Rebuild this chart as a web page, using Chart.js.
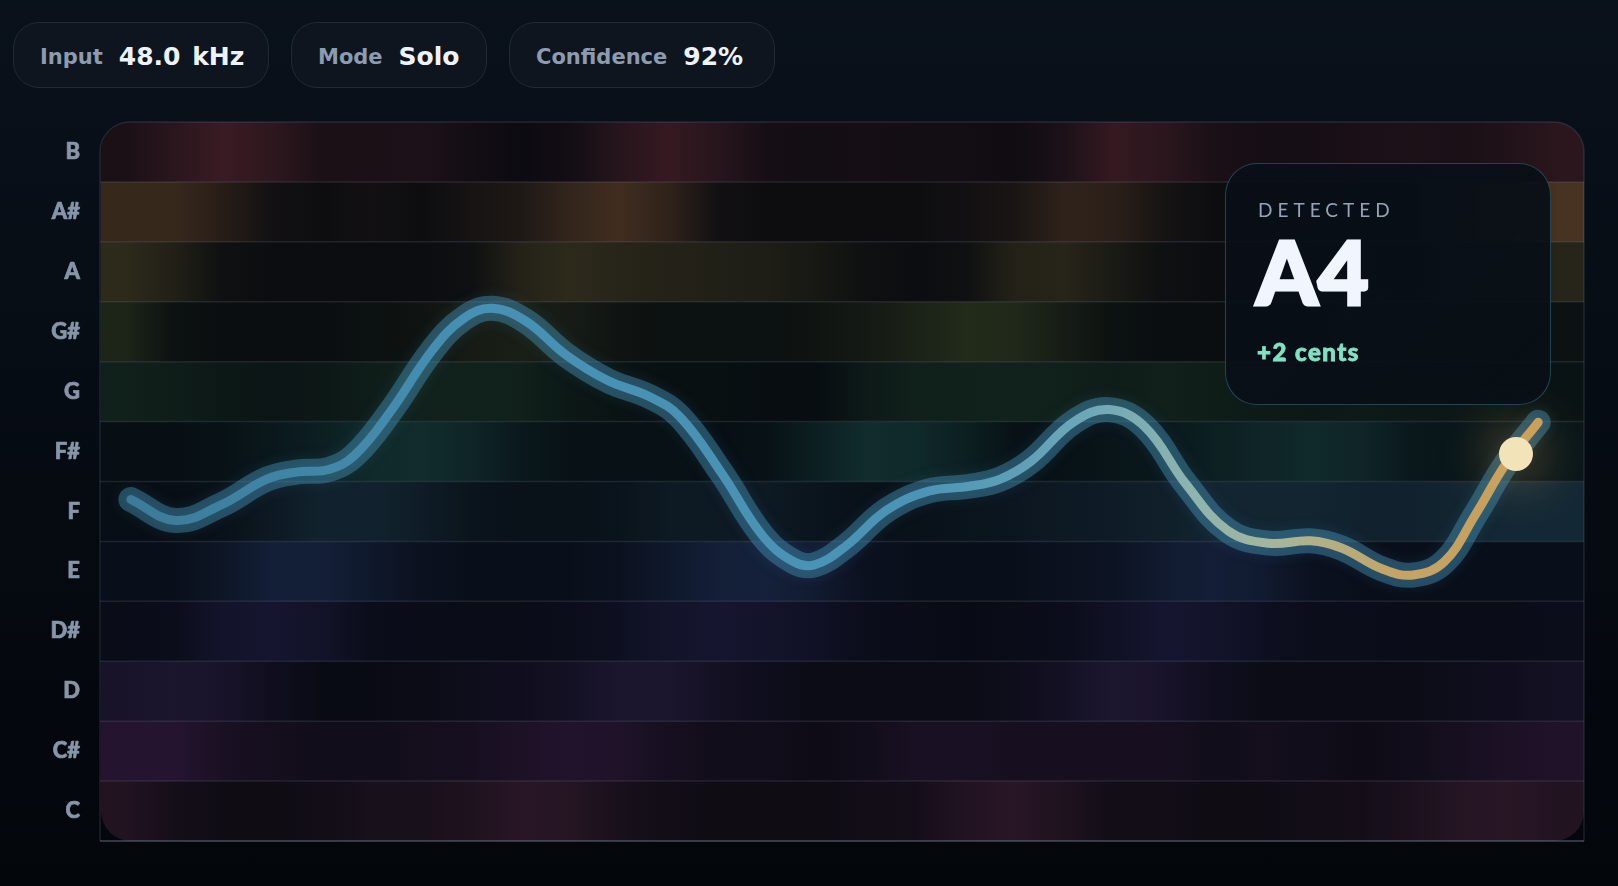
<!DOCTYPE html>
<html>
<head>
<meta charset="utf-8">
<script src="https://cdn.jsdelivr.net/npm/chart.js@4.4.1/dist/chart.umd.min.js"></script>
<style>
  html, body { margin: 0; padding: 0; width: 1618px; height: 886px; overflow: hidden;
    background: linear-gradient(180deg, #09111b 0%, #060b12 55%, #03060b 100%);
    font-family: Lato, 'Noto Sans', sans-serif; }
  #wrap { position: relative; width: 1618px; height: 886px; }
  #pitchChart { position: absolute; left: 0; top: 0; }
  .pill { position: absolute; top: 22px; height: 66px; box-sizing: border-box;
    border: 1.5px solid #212a36; border-radius: 26px; background: #0e151e;
    display: flex; align-items: center; padding: 3px 0 0 26px; gap: 16px; }
  .pill .k { color: #8d9bb0; font-family: 'DejaVu Sans', sans-serif; font-weight: 700; font-size: 21px; }
  .pill .v { color: #eef3fb; font-family: 'DejaVu Sans', sans-serif; font-weight: 700; font-size: 25px; word-spacing: 3px; }
  .card { position: absolute; left: 1225px; top: 163px; width: 326px; height: 242px;
    box-sizing: border-box; border: 1.5px solid rgba(64, 122, 152, 0.5); border-radius: 32px;
    background: linear-gradient(135deg, rgba(10, 15, 23, 0.95) 0%, rgba(8, 16, 22, 0.92) 100%); }
  .card div { position: absolute; white-space: nowrap; line-height: 1; }
  .card .lbl { left: 32px; top: 36px; font-size: 19px; font-weight: 400; letter-spacing: 5px; color: #93a4b8; }
  .card .note { left: 30px; top: 63px; font-size: 88px; font-weight: 900; color: #f1f5fd;
    letter-spacing: 0px; -webkit-text-stroke: 3px #f1f5fd; }
  .card .cents { left: 31px; top: 176px; font-size: 24px; font-weight: 900; color: #80e2c2;
    letter-spacing: 1.5px; -webkit-text-stroke: 0.8px #80e2c2; }
</style>
</head>
<body>
<div id="wrap">
  <canvas id="pitchChart" width="1618" height="886"></canvas>
  <div id="pills"></div>
  <div class="card">
    <div class="lbl" id="cardLabel"></div>
    <div class="note" id="cardNote"></div>
    <div class="cents" id="cardCents"></div>
  </div>
</div>
<script>
// status pills
const pillKeys = ['Input', 'Mode', 'Confidence'];
const pillValues = ['48.0 kHz', 'Solo', '92%'];
const pillLeft = [13, 291, 509];
const pillWidth = [256, 196, 266];

// detected card
const detectedLabel = 'DETECTED';
const detectedNote = 'A4';
const detectedCents = '+2 cents';

// pitch classes, bottom to top
const noteNames = ['C', 'C#', 'D', 'D#', 'E', 'F', 'F#', 'G', 'G#', 'A', 'A#', 'B'];

// chroma heat columns (frame at column centre)
const colFrames = [2, 6, 10, 14, 18, 22, 26, 30, 34, 38, 42, 46, 50, 54, 58, 62, 66, 70, 74, 78, 82, 86, 90, 94, 98, 102, 106, 110, 114, 118];
const chromaC  = [0.45,0.25,0.15,0.15,0.2,0.3,0.3,0.4,0.55,0.5,0.3,0.2,0.15,0.15,0.15,0.2,0.25,0.45,0.55,0.4,0.2,0.2,0.15,0.15,0.2,0.25,0.35,0.5,0.55,0.45];
const chromaCs = [0.55,0.55,0.35,0.25,0.2,0.2,0.25,0.3,0.4,0.5,0.45,0.3,0.2,0.2,0.15,0.2,0.35,0.35,0.3,0.3,0.3,0.3,0.2,0.25,0.2,0.15,0.2,0.3,0.4,0.45];
const chromaD  = [0.45,0.5,0.45,0.25,0.1,0.1,0.15,0.2,0.25,0.35,0.5,0.5,0.35,0.2,0.15,0.15,0.15,0.15,0.2,0.35,0.55,0.45,0.25,0.15,0.15,0.15,0.15,0.2,0.25,0.35];
const chromaDs = [0.15,0.2,0.45,0.5,0.4,0.2,0.15,0.15,0.15,0.2,0.3,0.45,0.5,0.45,0.35,0.2,0.15,0.1,0.15,0.2,0.35,0.5,0.45,0.3,0.2,0.2,0.15,0.15,0.15,0.2];
const chromaE  = [0.15,0.15,0.3,0.5,0.5,0.35,0.2,0.15,0.15,0.15,0.2,0.35,0.5,0.55,0.4,0.2,0.15,0.15,0.15,0.2,0.25,0.4,0.5,0.4,0.2,0.15,0.15,0.15,0.15,0.15];
const chromaF  = [0.1,0.1,0.15,0.3,0.45,0.45,0.35,0.2,0.15,0.15,0.2,0.3,0.3,0.3,0.2,0.15,0.15,0.2,0.25,0.3,0.35,0.4,0.5,0.5,0.5,0.45,0.45,0.5,0.55,0.55];
const chromaFs = [0.1,0.1,0.15,0.25,0.35,0.5,0.55,0.45,0.25,0.15,0.15,0.15,0.1,0.15,0.35,0.55,0.5,0.35,0.15,0.15,0.2,0.25,0.35,0.45,0.5,0.45,0.25,0.2,0.2,0.2];
const chromaG  = [0.45,0.4,0.3,0.25,0.3,0.4,0.5,0.5,0.45,0.3,0.2,0.15,0.15,0.1,0.1,0.35,0.45,0.45,0.5,0.45,0.4,0.45,0.4,0.35,0.3,0.35,0.3,0.3,0.25,0.2];
const chromaGs = [0.5,0.15,0.1,0.1,0.1,0.15,0.2,0.35,0.4,0.35,0.2,0.15,0.15,0.15,0.2,0.3,0.45,0.6,0.55,0.35,0.15,0.1,0.1,0.1,0.1,0.15,0.15,0.15,0.15,0.15];
const chromaA  = [0.65,0.45,0.15,0.1,0.1,0.1,0.1,0.15,0.5,0.65,0.55,0.5,0.45,0.4,0.3,0.15,0.1,0.15,0.5,0.55,0.35,0.15,0.1,0.1,0.1,0.15,0.1,0.2,0.35,0.55];
const chromaAs = [0.6,0.6,0.4,0.15,0.1,0.15,0.1,0.2,0.3,0.55,0.7,0.5,0.15,0.1,0.1,0.1,0.1,0.15,0.25,0.5,0.45,0.2,0.1,0.1,0.1,0.1,0.1,0.3,0.6,0.85];
const chromaB  = [0.3,0.55,0.75,0.6,0.3,0.3,0.35,0.2,0.1,0.2,0.5,0.7,0.5,0.25,0.2,0.25,0.2,0.2,0.15,0.35,0.7,0.55,0.3,0.25,0.25,0.3,0.35,0.3,0.4,0.55];
const chromaRows = [chromaC, chromaCs, chromaD, chromaDs, chromaE, chromaF, chromaFs, chromaG, chromaGs, chromaA, chromaAs, chromaB];

// tracked pitch (frame, pitch class as float)
const pitchFrames = [2.5, 6.1, 9.8, 13.5, 16.0, 18.5, 20.6, 23.5, 26.9, 29.4, 31.7, 34.4, 37.7, 41.1, 44.4, 46.9, 50.3, 53.6, 56.1, 57.8, 60.3, 63.6, 67.0, 70.3, 72.8, 75.3, 78.7, 81.6, 84.5, 87.8, 91.2, 94.5, 97.9, 100.4, 103.7, 106.2, 108.7, 111.2, 113.7, 116.3];
const pitchValues = [5.2, 4.85, 5.11, 5.54, 5.66, 5.7, 5.94, 6.67, 7.7, 8.22, 8.39, 8.18, 7.61, 7.18, 6.92, 6.58, 5.63, 4.59, 4.16, 4.11, 4.42, 5.02, 5.34, 5.42, 5.54, 5.84, 6.49, 6.7, 6.41, 5.46, 4.68, 4.47, 4.51, 4.39, 4.04, 3.94, 4.16, 4.94, 5.8, 6.49];
const currentFrame = [114.5];
const currentPitch = [5.96];

// colours
const heatBase = [5, 8, 14];
const noteHues = [
  [56, 28, 48], [52, 26, 62], [40, 28, 64], [30, 29, 66], [28, 44, 80], [26, 54, 70],
  [22, 60, 58], [24, 50, 36], [44, 54, 30], [54, 50, 30], [72, 50, 33], [60, 28, 36]
];

pillKeys.forEach((k, i) => {
  const el = document.createElement('div');
  el.className = 'pill';
  el.style.left = pillLeft[i] + 'px';
  el.style.width = pillWidth[i] + 'px';
  el.innerHTML = '<span class="k">' + k + '</span><span class="v">' + pillValues[i] + '</span>';
  document.getElementById('pills').appendChild(el);
});
document.getElementById('cardLabel').textContent = detectedLabel;
document.getElementById('cardNote').textContent = detectedNote;
document.getElementById('cardCents').textContent = detectedCents;

function heatColor(hue, v) {
  const t = Math.min(1, v / 0.8);
  const c = heatBase.map((b, i) => Math.round(b + (hue[i] - b) * t));
  return 'rgb(' + c.join(',') + ')';
}

function roundTopPath(ctx, l, t, r, b, rad) {
  ctx.beginPath();
  ctx.moveTo(l, b);
  ctx.lineTo(l, t + rad);
  ctx.arcTo(l, t, l + rad, t, rad);
  ctx.lineTo(r - rad, t);
  ctx.arcTo(r, t, r, t + rad, rad);
  ctx.lineTo(r, b);
}

const chromaPlugin = {
  id: 'chroma',
  beforeDatasetsDraw(chart) {
    const { ctx, chartArea: a, scales: { x, y } } = chart;
    const w = a.right - a.left;
    const rad = 30;
    ctx.save();
    ctx.beginPath();
    ctx.roundRect(a.left + 1, a.top, w - 1, a.bottom - a.top, rad);
    ctx.clip();
    chromaRows.forEach((row, n) => {
      const top = y.getPixelForValue(n + 0.5);
      const bottom = y.getPixelForValue(n - 0.5);
      const g = ctx.createLinearGradient(a.left, 0, a.right, 0);
      row.forEach((v, c) => {
        const px = x.getPixelForValue(colFrames[c]);
        g.addColorStop(Math.max(0, Math.min(1, (px - a.left) / w)), heatColor(noteHues[n], v));
      });
      ctx.fillStyle = g;
      ctx.fillRect(a.left, top, w, bottom - top);
    });
    ctx.restore();

    ctx.save();
    ctx.lineWidth = 1.5;
    ctx.strokeStyle = 'rgba(175, 192, 215, 0.13)';
    for (let n = 0; n < noteNames.length - 1; n++) {
      const py = y.getPixelForValue(n + 0.5);
      ctx.beginPath();
      ctx.moveTo(a.left, py);
      ctx.lineTo(a.right, py);
      ctx.stroke();
    }
    ctx.strokeStyle = 'rgba(150, 168, 190, 0.16)';
    roundTopPath(ctx, a.left, a.top, a.right, a.bottom, rad);
    ctx.stroke();
    ctx.strokeStyle = 'rgba(150, 165, 185, 0.32)';
    ctx.lineWidth = 2;
    ctx.beginPath();
    ctx.moveTo(a.left, a.bottom);
    ctx.lineTo(a.right, a.bottom);
    ctx.stroke();
    ctx.restore();
  }
};

const glowPlugin = {
  id: 'glow',
  beforeDatasetDraw(chart, args) {
    const ds = chart.data.datasets[args.index];
    if (!ds.glowColor) return;
    chart.ctx.save();
    chart.ctx.shadowColor = ds.glowColor;
    chart.ctx.shadowBlur = ds.glowBlur;
  },
  afterDatasetDraw(chart, args) {
    const ds = chart.data.datasets[args.index];
    if (ds.glowColor) chart.ctx.restore();
  }
};

function coreGradient(context) {
  const { ctx, chartArea } = context.chart;
  if (!chartArea) return '#4a92b4';
  const g = ctx.createLinearGradient(chartArea.left, 0, chartArea.right, 0);
  g.addColorStop(0, '#3b7997');
  g.addColorStop(0.25, '#4690b3');
  g.addColorStop(0.55, '#4b94b6');
  g.addColorStop(0.66, '#6ba7b9');
  g.addColorStop(0.74, '#90b5ad');
  g.addColorStop(0.8, '#a9b597');
  g.addColorStop(0.87, '#c4a566');
  g.addColorStop(1, '#c99b56');
  return g;
}

const pitchPoints = pitchFrames.map((f, i) => ({ x: f, y: pitchValues[i] }));

new Chart(document.getElementById('pitchChart'), {
  type: 'line',
  data: {
    datasets: [
      {
        data: currentFrame.map((f, i) => ({ x: f, y: currentPitch[i] })),
        showLine: false,
        pointRadius: 17,
        pointBackgroundColor: '#f2e3b8',
        pointBorderWidth: 0,
        glowColor: 'rgba(240, 190, 100, 0.9)',
        glowBlur: 55,
        order: 0
      },
      {
        data: pitchPoints,
        borderColor: coreGradient,
        borderWidth: 9,
        tension: 0.4,
        pointRadius: 0,
        borderCapStyle: 'round',
        borderJoinStyle: 'round',
        order: 1
      },
      {
        data: pitchPoints,
        borderColor: 'rgba(72, 150, 185, 0.42)',
        borderWidth: 25,
        tension: 0.4,
        pointRadius: 0,
        borderCapStyle: 'round',
        borderJoinStyle: 'round',
        glowColor: 'rgba(60, 140, 180, 0.35)',
        glowBlur: 14,
        order: 2
      }
    ]
  },
  options: {
    responsive: false,
    animation: false,
    devicePixelRatio: 1,
    layout: { padding: { top: 122, right: 34, bottom: 45, left: 0 } },
    plugins: { legend: { display: false }, tooltip: { enabled: false } },
    scales: {
      x: { type: 'linear', min: 0, max: 120, display: false },
      y: {
        type: 'linear',
        min: -0.5,
        max: 11.5,
        afterBuildTicks: (scale) => { scale.ticks = noteNames.map((n, i) => ({ value: i })); },
        afterFit: (scale) => { scale.width = 100; },
        grid: { display: false, drawTicks: false },
        border: { display: false },
        ticks: {
          padding: 20,
          color: '#8795a8',
          textStrokeColor: '#8795a8',
          textStrokeWidth: 0.7,
          font: { family: 'Lato', weight: '900', size: 22 },
          callback: (v) => noteNames[v]
        }
      }
    }
  },
  plugins: [chromaPlugin, glowPlugin]
});
</script>
</body>
</html>
